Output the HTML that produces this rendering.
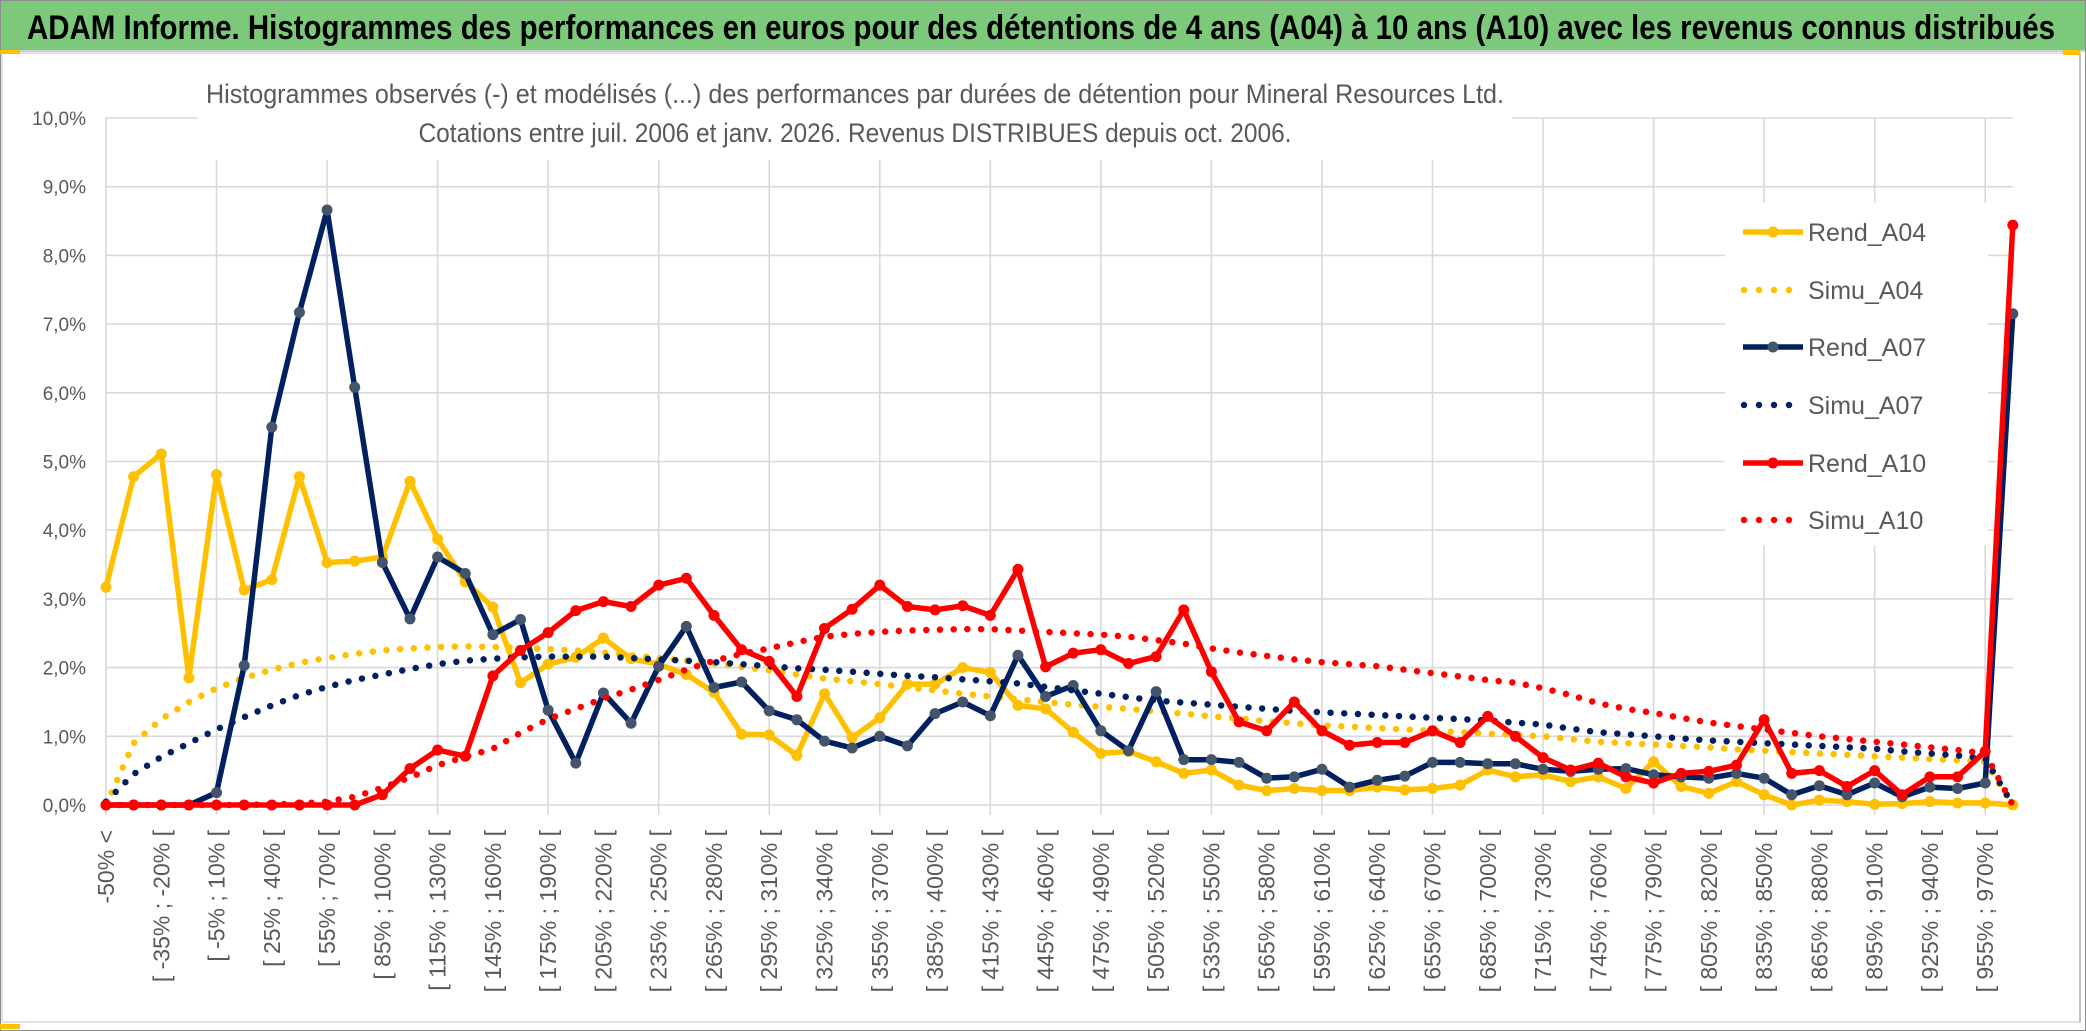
<!DOCTYPE html>
<html><head><meta charset="utf-8"><style>
html,body{margin:0;padding:0;background:#fff;}
svg{display:block;}
</style></head><body>
<svg id="chart" width="2086" height="1031" viewBox="0 0 2086 1031" xmlns="http://www.w3.org/2000/svg">
<rect x="0" y="0" width="2086" height="1031" fill="#ffffff"/>
<rect x="0" y="0" width="2086" height="50" fill="#7DC97B"/>
<line x1="0" y1="51" x2="2086" y2="51" stroke="#d0d0d0" stroke-width="2"/>
<text x="27" y="39" font-family="Liberation Sans, sans-serif" font-weight="bold" font-size="34" fill="#000" textLength="2028" lengthAdjust="spacingAndGlyphs">ADAM Informe. Histogrammes des performances en euros pour des détentions de 4 ans (A04) à 10 ans (A10) avec les revenus connus distribués</text>
<rect x="2" y="53" width="2078" height="969" fill="none" stroke="#d9d9d9" stroke-width="1.5"/>
<line x1="2080" y1="53" x2="2080" y2="1022" stroke="#bfbfbf" stroke-width="2"/>
<rect x="0" y="0" width="2086" height="1031" fill="none" stroke="#8c8c8c" stroke-width="2"/>
<rect x="0" y="50" width="20" height="4" fill="#FFC000"/>
<rect x="2063" y="50" width="17" height="5" fill="#FFC000"/>
<rect x="0" y="1024" width="20" height="5" fill="#FFC000"/>
<g id="grid"></g>
<g id="yaxis"></g>
<g id="xaxis"></g>
<rect x="198" y="68" width="1314" height="92" fill="#fff"/>
<text x="855" y="103" text-anchor="middle" font-family="Liberation Sans, sans-serif" font-size="27" fill="#595959" textLength="1298" lengthAdjust="spacingAndGlyphs">Histogrammes observés (-) et modélisés (...) des performances par durées de détention pour Mineral Resources Ltd.</text>
<text x="855" y="142" text-anchor="middle" font-family="Liberation Sans, sans-serif" font-size="27" fill="#595959" textLength="873" lengthAdjust="spacingAndGlyphs">Cotations entre juil. 2006 et janv. 2026. Revenus DISTRIBUES depuis oct. 2006.</text>
<rect x="1725" y="203" width="263" height="342" fill="#fff"/>
<g id="series"></g>
<g id="legend"></g>
</svg>
<script>
const rendA04 = [3.17,4.78,5.11,1.85,4.81,3.13,3.28,4.78,3.53,3.55,3.61,4.71,3.87,3.25,2.88,1.78,2.05,2.15,2.43,2.13,2.05,1.9,1.64,1.03,1.02,0.72,1.62,0.98,1.27,1.76,1.76,2.0,1.93,1.45,1.4,1.06,0.75,0.78,0.63,0.46,0.51,0.29,0.21,0.24,0.21,0.21,0.26,0.22,0.24,0.29,0.51,0.41,0.44,0.34,0.41,0.24,0.63,0.27,0.17,0.34,0.15,0.0,0.07,0.05,0.01,0.02,0.05,0.03,0.03,0.0];
const rendA07 = [0,0,0,0,0.18,2.03,5.5,7.17,8.66,6.08,3.53,2.71,3.61,3.37,2.48,2.7,1.38,0.61,1.63,1.19,2.02,2.6,1.71,1.79,1.37,1.24,0.93,0.83,1.0,0.86,1.33,1.5,1.3,2.18,1.58,1.74,1.08,0.79,1.65,0.66,0.66,0.62,0.39,0.41,0.52,0.26,0.36,0.42,0.62,0.62,0.6,0.6,0.52,0.49,0.52,0.53,0.44,0.41,0.39,0.46,0.39,0.15,0.28,0.15,0.32,0.12,0.26,0.24,0.32,7.15];
const rendA10 = [0,0,0,0,0,0,0,0,0,0,0.15,0.53,0.8,0.71,1.88,2.25,2.51,2.83,2.96,2.89,3.2,3.3,2.76,2.26,2.09,1.58,2.57,2.85,3.2,2.89,2.84,2.9,2.76,3.43,2.01,2.21,2.26,2.06,2.16,2.84,1.94,1.21,1.08,1.5,1.08,0.87,0.91,0.91,1.08,0.91,1.29,1.0,0.69,0.51,0.61,0.41,0.32,0.46,0.49,0.58,1.24,0.46,0.5,0.27,0.5,0.15,0.41,0.41,0.78,8.44];
const simuA04 = [0,0.9,1.25,1.5,1.7,1.85,1.97,2.07,2.14,2.2,2.25,2.28,2.3,2.31,2.3,2.29,2.27,2.25,2.22,2.18,2.14,2.1,2.06,2.01,1.96,1.9,1.84,1.8,1.76,1.71,1.67,1.62,1.58,1.54,1.5,1.46,1.43,1.4,1.36,1.33,1.29,1.26,1.22,1.19,1.16,1.14,1.12,1.1,1.08,1.06,1.04,1.02,1.0,0.96,0.92,0.9,0.88,0.86,0.84,0.81,0.79,0.77,0.75,0.73,0.71,0.69,0.67,0.65,0.63,0];
const simuA07 = [0.05,0.45,0.7,0.9,1.1,1.28,1.45,1.6,1.72,1.82,1.9,1.98,2.05,2.1,2.13,2.15,2.16,2.16,2.16,2.14,2.12,2.1,2.08,2.05,2.02,1.99,1.97,1.94,1.91,1.88,1.86,1.83,1.8,1.77,1.72,1.67,1.62,1.57,1.52,1.49,1.46,1.43,1.4,1.37,1.35,1.33,1.31,1.29,1.27,1.25,1.23,1.2,1.17,1.11,1.06,1.03,1.0,0.97,0.94,0.92,0.9,0.88,0.86,0.84,0.82,0.78,0.75,0.72,0.68,0];
const simuA10 = [0,0,0,0,0,0,0.01,0.02,0.05,0.12,0.25,0.4,0.58,0.7,0.82,1.05,1.25,1.4,1.55,1.68,1.82,1.97,2.1,2.2,2.28,2.37,2.45,2.49,2.52,2.54,2.55,2.56,2.56,2.54,2.52,2.5,2.48,2.45,2.4,2.35,2.28,2.22,2.17,2.12,2.08,2.05,2.02,1.97,1.92,1.87,1.82,1.78,1.7,1.6,1.48,1.4,1.34,1.27,1.2,1.15,1.1,1.05,1.0,0.96,0.92,0.88,0.84,0.8,0.75,0];
const yTicks = ["0,0%","1,0%","2,0%","3,0%","4,0%","5,0%","6,0%","7,0%","8,0%","9,0%","10,0%"];
const yTickValues = [0,1,2,3,4,5,6,7,8,9,10];
const categories = ["-50% <"];
for (let k = 0; k < 69; k++) { const a = -50 + 15 * k; categories.push("[ " + a + "% ; " + (a + 15) + "% ["); }

const NS = "http://www.w3.org/2000/svg";
const X0 = 106, DX = 27.635, Y0 = 805, PY = 68.7;
const xScale = i => X0 + i * DX;
const yScale = v => Y0 - v * PY;
function mk(tag, attrs, parent) {
  const e = document.createElementNS(NS, tag);
  for (const k in attrs) e.setAttribute(k, attrs[k]);
  parent.appendChild(e);
  return e;
}
const grid = document.getElementById('grid');
const yaxis = document.getElementById('yaxis');
const xaxis = document.getElementById('xaxis');
const seriesG = document.getElementById('series');
const legend = document.getElementById('legend');
const xRight = xScale(categories.length - 1);

yTickValues.forEach((v, i) => {
  const l = mk('line', {x1: X0, x2: xRight, y1: yScale(v), y2: yScale(v), stroke: '#d9d9d9', 'stroke-width': 1.6}, grid);
  
  
  const t = mk('text', {x: 86, y: yScale(v) + 7, 'text-anchor': 'end', 'font-family': 'Liberation Sans, sans-serif', 'font-size': 19, fill: '#595959'}, yaxis);
  t.textContent = yTicks[i];
  
  
});
for (let i = 0; i < categories.length; i += 4) {
  const l = mk('line', {x1: xScale(i), x2: xScale(i), y1: yScale(10), y2: Y0 + 10, stroke: '#d9d9d9', 'stroke-width': 1.6}, grid);
  
  
}
categories.forEach((c, i) => {
  if (i % 2) return;
  const x = xScale(i) + 8, y = 830;
  const t = mk('text', {x: x, y: y, 'text-anchor': 'end', transform: 'rotate(-90 ' + x + ' ' + y + ')', 'font-family': 'Liberation Sans, sans-serif', 'font-size': 23, fill: '#595959'}, xaxis);
  t.textContent = c;
  
  
});

function pts(arr) { return arr.map((v, i) => xScale(i).toFixed(1) + ',' + yScale(v).toFixed(1)).join(' '); }
function solid(arr, color, mcolor, name) {
  const g = mk('g', {}, seriesG);
  
  
  mk('polyline', {points: pts(arr), fill: 'none', stroke: color, 'stroke-width': 5.5, 'stroke-linejoin': 'round'}, g);
  arr.forEach((v, i) => {
    const c = mk('circle', {cx: xScale(i), cy: yScale(v), r: 5.5, fill: mcolor}, g);
    
    
  });
}
function dotted(arr, color, name) {
  const p = mk('polyline', {points: pts(arr), fill: 'none', stroke: color, 'stroke-width': 6.5, 'stroke-linecap': 'round', 'stroke-dasharray': '0 13.7'}, seriesG);
  
  
}
solid(rendA04, '#FFC000', '#FFC000', 'series-rend-a04');
dotted(simuA04, '#FFC000', 'series-simu-a04');
solid(rendA07, '#002060', '#44546A', 'series-rend-a07');
dotted(simuA07, '#002060', 'series-simu-a07');
solid(rendA10, '#FF0000', '#FF0000', 'series-rend-a10');
dotted(simuA10, '#FF0000', 'series-simu-a10');

const legendNames = ["Rend_A04","Simu_A04","Rend_A07","Simu_A07","Rend_A10","Simu_A10"];
const legendColors = ['#FFC000','#FFC000','#002060','#002060','#FF0000','#FF0000'];
const legendMarkers = ['#FFC000',null,'#44546A',null,'#FF0000',null];
const legendY = [232,290,347,405,463,520];
legendNames.forEach((n, i) => {
  const g = mk('g', {}, legend);
  
  
  const y = legendY[i];
  if (legendMarkers[i]) {
    mk('line', {x1: 1743, x2: 1803, y1: y, y2: y, stroke: legendColors[i], 'stroke-width': 5.5}, g);
    mk('circle', {cx: 1773, cy: y, r: 5.5, fill: legendMarkers[i]}, g);
  } else {
    mk('line', {x1: 1744, x2: 1800, y1: y, y2: y, stroke: legendColors[i], 'stroke-width': 6.5, 'stroke-linecap': 'round', 'stroke-dasharray': '0 15'}, g);
  }
  const t = mk('text', {x: 1808, y: y + 9, 'font-family': 'Liberation Sans, sans-serif', 'font-size': 25, fill: '#595959'}, g);
  t.textContent = n;
});
</script>
</body></html>
